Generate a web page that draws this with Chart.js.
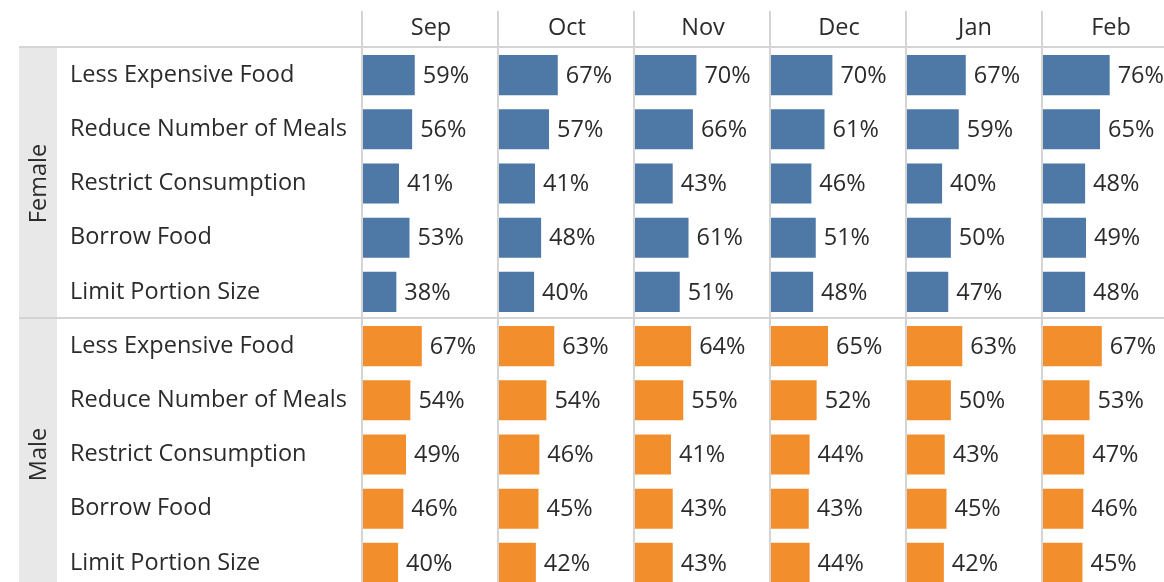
<!DOCTYPE html>
<html>
<head>
<meta charset="utf-8">
<script src="https://cdn.jsdelivr.net/npm/chart.js@4/dist/chart.umd.min.js"></script>
<style>
  html, body { margin: 0; padding: 0; background: #ffffff; overflow: hidden; }
  #wrap { width: 1180px; height: 592px; }
</style>
</head>
<body>
<div id="wrap"><canvas id="c" width="1180" height="592"></canvas></div>
<script>
// ---- data ----
const months = ['Sep', 'Oct', 'Nov', 'Dec', 'Jan', 'Feb'];
const genders = ['Female', 'Male'];
const measures = ['Less Expensive Food', 'Reduce Number of Meals', 'Restrict Consumption', 'Borrow Food', 'Limit Portion Size'];

const sepFemale = [59, 56, 41, 53, 38];
const sepMale   = [67, 54, 49, 46, 40];
const octFemale = [67, 57, 41, 48, 40];
const octMale   = [63, 54, 46, 45, 42];
const novFemale = [70, 66, 43, 61, 51];
const novMale   = [64, 55, 41, 43, 43];
const decFemale = [70, 61, 46, 51, 48];
const decMale   = [65, 52, 44, 43, 44];
const janFemale = [67, 59, 40, 50, 47];
const janMale   = [63, 50, 43, 45, 42];
const febFemale = [76, 65, 48, 49, 48];
const febMale   = [67, 53, 47, 46, 45];

const femaleByMonth = [sepFemale, octFemale, novFemale, decFemale, janFemale, febFemale];
const maleByMonth   = [sepMale, octMale, novMale, decMale, janMale, febMale];

// ---- styling ----
const FONT = 'Open Sans';
const FSIZE = 23.5;
const TEXT = '#2b2b2b';
const BLUE = '#4e79a7';
const ORANGE = '#f28e2b';
const LINE = '#d4d4d4';
const BAND = '#e8e8e8';

const rowLabels = [];
genders.forEach(() => measures.forEach(m => rowLabels.push(m)));
const rowColors = [];
genders.forEach((g, gi) => measures.forEach(() => rowColors.push(gi === 0 ? BLUE : ORANGE)));

const datasets = months.map((m, i) => ({
  label: m,
  data: femaleByMonth[i].concat(maleByMonth[i]),
  xAxisID: 'x' + i,
  yAxisID: 'y',
  backgroundColor: rowColors,
  borderWidth: 0,
  grouped: false,
  categoryPercentage: 1,
  barPercentage: 0.74
}));

const scales = {
  y: {
    type: 'category',
    labels: rowLabels,
    position: 'left',
    offset: true,
    grid: { display: false },
    border: { display: false },
    ticks: { crossAlign: 'far', autoSkip: false, padding: 0, color: TEXT, font: { family: FONT, size: FSIZE } },
    afterFit(s) { s.width = 293; s.paddingTop = 0; s.paddingBottom = 0; }
  }
};
months.forEach((m, i) => {
  scales['x' + i] = {
    type: 'linear',
    position: 'top',
    stack: 'months',
    stackWeight: 1,
    weight: months.length - 1 - i,
    min: 0,
    max: 155,
    grid: { display: false },
    border: { display: false },
    ticks: { display: false },
    title: { display: true, text: m, color: TEXT, font: { family: FONT, size: FSIZE }, padding: { top: 14, bottom: 0 } },
    afterFit(s) { s.height = 48; }
  };
});

const decor = {
  id: 'decor',
  beforeDatasetsDraw(chart) {
    const { ctx, chartArea, scales } = chart;
    const y = scales.y;
    ctx.save();
    // gender band
    ctx.fillStyle = BAND;
    ctx.fillRect(19, chartArea.top - 1, 38, chart.height - chartArea.top + 1);
    ctx.strokeStyle = LINE;
    ctx.lineWidth = 2;
    // header line
    ctx.beginPath();
    ctx.moveTo(19, chartArea.top - 1);
    ctx.lineTo(chart.width, chartArea.top - 1);
    ctx.stroke();
    // gender divider
    const split = (y.getPixelForValue(measures.length - 1) + y.getPixelForValue(measures.length)) / 2;
    ctx.beginPath();
    ctx.moveTo(19, split - 1);
    ctx.lineTo(chart.width, split - 1);
    ctx.stroke();
    // column lines
    months.forEach((m, i) => {
      const s = scales['x' + i];
      ctx.beginPath();
      ctx.moveTo(s.left - 1, 11);
      ctx.lineTo(s.left - 1, chart.height);
      ctx.stroke();
    });
    // gender labels
    ctx.fillStyle = TEXT;
    ctx.font = FSIZE + 'px "' + FONT + '"';
    ctx.textAlign = 'center';
    ctx.textBaseline = 'middle';
    genders.forEach((g, gi) => {
      const a = y.getPixelForValue(gi * measures.length);
      const b = y.getPixelForValue(gi * measures.length + measures.length - 1);
      ctx.save();
      ctx.translate(39, (a + b) / 2);
      ctx.rotate(-Math.PI / 2);
      ctx.fillText(g, 0, 0);
      ctx.restore();
    });
    ctx.restore();
  },
  afterDatasetsDraw(chart) {
    const { ctx } = chart;
    ctx.save();
    ctx.fillStyle = TEXT;
    ctx.font = FSIZE + 'px "' + FONT + '"';
    ctx.textAlign = 'left';
    ctx.textBaseline = 'middle';
    chart.data.datasets.forEach((ds, di) => {
      const meta = chart.getDatasetMeta(di);
      meta.data.forEach((el, j) => {
        ctx.fillText(ds.data[j] + '%', el.x + 8, el.y + 1);
      });
    });
    ctx.restore();
  }
};

new Chart(document.getElementById('c'), {
  type: 'bar',
  data: { datasets },
  options: {
    indexAxis: 'y',
    responsive: false,
    animation: false,
    layout: { padding: { left: 70, right: 1, top: 0, bottom: 2 } },
    plugins: { legend: { display: false }, tooltip: { enabled: false } },
    scales
  },
  plugins: [decor]
});
</script>
</body>
</html>
